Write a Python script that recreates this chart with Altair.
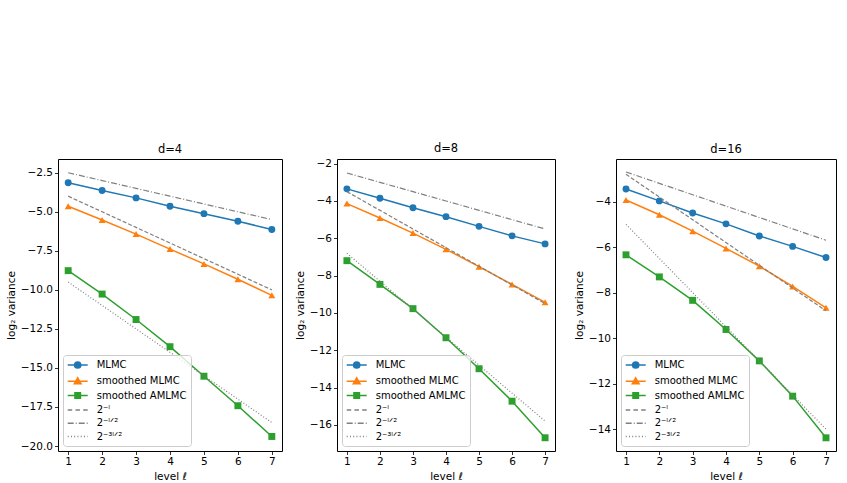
import altair as alt
import pandas as pd

levels = [1, 2, 3, 4, 5, 6, 7]

series_all = ["MLMC", "smoothed MLMC", "smoothed AMLMC", "2⁻ˡ", "2⁻ˡᐟ²", "2⁻³ˡᐟ²"]
colors_all = ["#1f77b4", "#ff7f0e", "#2ca02c", "#808080", "#808080", "#808080"]

# d = 4
mlmc_d4 = [-3.14, -3.64, -4.11, -4.65, -5.12, -5.61, -6.13]
smlmc_d4 = [-4.65, -5.53, -6.43, -7.39, -8.34, -9.32, -10.35]
samlmc_d4 = [-8.77, -10.27, -11.90, -13.64, -15.53, -17.42, -19.39]
ref1_d4 = [-4.0, -5.0, -6.0, -7.0, -8.0, -9.0, -10.0]
ref12_d4 = [-2.5, -3.0, -3.5, -4.0, -4.5, -5.0, -5.5]
ref32_d4 = [-9.5, -11.0, -12.5, -14.0, -15.5, -17.0, -18.5]

# d = 8
mlmc_d8 = [-3.35, -3.85, -4.36, -4.84, -5.36, -5.87, -6.30]
smlmc_d8 = [-4.14, -4.91, -5.72, -6.59, -7.52, -8.47, -9.43]
samlmc_d8 = [-7.20, -8.47, -9.77, -11.33, -12.99, -14.73, -16.69]
ref1_d8 = [-3.5, -4.5, -5.5, -6.5, -7.5, -8.5, -9.5]
ref12_d8 = [-2.5, -3.0, -3.5, -4.0, -4.5, -5.0, -5.5]
ref32_d8 = [-6.8, -8.3, -9.8, -11.3, -12.8, -14.3, -15.8]

# d = 16
mlmc_d16 = [-3.45, -3.97, -4.50, -4.98, -5.51, -5.97, -6.46]
smlmc_d16 = [-3.93, -4.58, -5.30, -6.06, -6.84, -7.73, -8.67]
samlmc_d16 = [-6.34, -7.31, -8.34, -9.62, -11.00, -12.55, -14.38]
ref1_d16 = [-2.8, -3.8, -4.8, -5.8, -6.8, -7.8, -8.8]
ref12_d16 = [-2.7, -3.2, -3.7, -4.2, -4.7, -5.2, -5.7]
ref32_d16 = [-5.0, -6.5, -8.0, -9.5, -11.0, -12.5, -14.0]

y_ticks_d4 = [-20.0, -17.5, -15.0, -12.5, -10.0, -7.5, -5.0, -2.5]
y_ticks_d8 = [-16, -14, -12, -10, -8, -6, -4, -2]
y_ticks_d16 = [-14, -12, -10, -8, -6, -4]

# legend symbols: line + marker, drawn as custom paths
legend_paths = [
    "M-2,0L2,0M0.62,0A0.62,0.62,0,1,1,-0.62,0A0.62,0.62,0,1,1,0.62,0Z",
    "M-2,0L2,0M0,-0.7L0.68,0.48L-0.68,0.48Z",
    "M-2,0L2,0M-0.55,-0.55L0.55,-0.55L0.55,0.55L-0.55,0.55Z",
    "M-2,0L-1.1,0M-0.45,0L0.45,0M1.1,0L2,0",
    "M-2,0L-0.8,0M-0.4,0L-0.2,0M0.2,0L1.4,0M1.8,0L2,0",
    "M-2,0L-1.8,0M-1.35,0L-1.15,0M-0.7,0L-0.5,0M-0.05,0L0.15,0M0.6,0L0.8,0M1.25,0L1.45,0M1.9,0L2,0",
]


def make_df(vals):
    rows = []
    for name, arr in zip(series_all, vals):
        for l, v in zip(levels, arr):
            rows.append({"level": l, "value": v, "series": name})
    return pd.DataFrame(rows)


def panel(title, vals, ydomain, yticks, yfmt, width):
    df = make_df(vals)
    base = alt.Chart(df)
    x = alt.X("level:Q",
              scale=alt.Scale(domain=[0.7, 7.3], nice=False, zero=False),
              axis=alt.Axis(values=levels, format="d", title="level ℓ"))
    y = alt.Y("value:Q",
              scale=alt.Scale(domain=ydomain, nice=False, zero=False),
              axis=alt.Axis(values=yticks, format=yfmt, title="log₂ variance"))
    layers = []
    shapes = ["circle", "triangle-up", "square"]
    for name, color, shp in zip(series_all[:3], colors_all[:3], shapes):
        sub = base.transform_filter(alt.datum.series == name)
        layers.append(sub.mark_line(color=color, strokeWidth=1.5).encode(x=x, y=y))
        layers.append(sub.mark_point(shape=shp, filled=True, color=color, opacity=1,
                                     size=48).encode(x=x, y=y))
    dashes = [[4, 2], [6, 2, 1, 2], [1, 2]]
    for name, dash in zip(series_all[3:], dashes):
        sub = base.transform_filter(alt.datum.series == name)
        layers.append(sub.mark_line(color="#808080", strokeWidth=1.2,
                                    strokeDash=dash).encode(x=x, y=y))
    leg = alt.Legend(title=None, orient="bottom-left", offset=5)
    legend_layer = base.transform_filter("false").mark_point(
        filled=True, opacity=1, strokeWidth=1.5).encode(
        x=x, y=y,
        fill=alt.Fill("series:N", scale=alt.Scale(domain=series_all, range=colors_all), legend=leg),
        stroke=alt.Stroke("series:N", scale=alt.Scale(domain=series_all, range=colors_all), legend=leg),
        shape=alt.Shape("series:N", scale=alt.Scale(domain=series_all, range=legend_paths), legend=leg),
    )
    layers.append(legend_layer)
    return alt.layer(*layers).properties(width=width, height=292, title=title)


p1 = panel("d=4", [mlmc_d4, smlmc_d4, samlmc_d4, ref1_d4, ref12_d4, ref32_d4],
           [-20.32, -1.62], y_ticks_d4, ".1f", 224)
p2 = panel("d=8", [mlmc_d8, smlmc_d8, samlmc_d8, ref1_d8, ref12_d8, ref32_d8],
           [-17.4, -1.75], y_ticks_d8, "d", 218)
p3 = panel("d=16", [mlmc_d16, smlmc_d16, samlmc_d16, ref1_d16, ref12_d16, ref32_d16],
           [-14.96, -2.13], y_ticks_d16, "d", 220)


def indep(c):
    return c.resolve_scale(
        fill="independent", stroke="independent", shape="independent"
    ).resolve_legend(
        fill="independent", stroke="independent", shape="independent"
    )


inner = indep(alt.hconcat(p1, p2, spacing=11))
chart = indep(alt.hconcat(inner, p3, spacing=17)).properties(
    padding={"left": 5, "top": 142, "right": 0, "bottom": 0}
).configure(
    font="DejaVu Sans"
).configure_view(
    stroke="black", strokeWidth=1
).configure_axis(
    domain=False, grid=False, tickColor="black", tickSize=3.5, tickWidth=0.8,
    labelColor="black", labelFontSize=10.5, titleFontSize=10.5,
    titleFontWeight="normal", titleColor="black", labelPadding=2, titlePadding=4
).configure_title(
    fontSize=11.5, fontWeight="normal", offset=4, color="black"
).configure_legend(
    strokeColor="#cccccc", fillColor="rgba(255,255,255,0.8)", cornerRadius=3,
    padding=4, labelFontSize=10, rowPadding=2.3, symbolSize=100,
    symbolOffset=4.7, labelOffset=13, symbolStrokeWidth=1.5, labelColor="black",
    labelLimit=300, symbolOpacity=1
)

chart.save("out.html", embed_options={"renderer": "svg", "actions": False})
